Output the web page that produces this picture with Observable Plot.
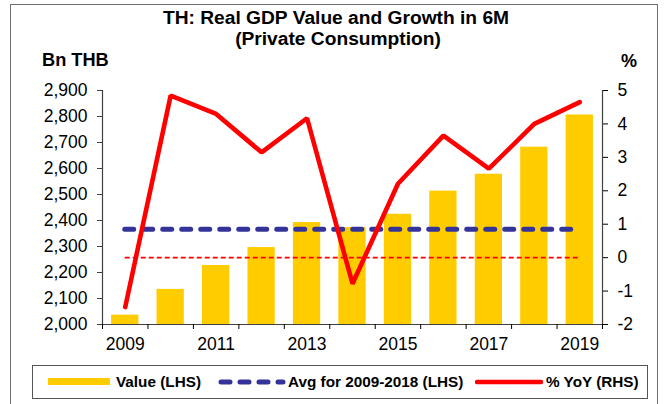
<!DOCTYPE html>
<html>
<head>
<meta charset="utf-8">
<script src="https://cdn.jsdelivr.net/npm/d3@7"></script>
<script src="https://cdn.jsdelivr.net/npm/@observablehq/plot@0.6"></script>
<style>
  html, body { margin: 0; padding: 0; background: #fff; }
  #wrap { position: relative; width: 664px; height: 404px; overflow: hidden; font-family: "Liberation Sans", Arial, sans-serif; color: #000; }
  #frame { position: absolute; left: 10px; top: 4px; width: 648px; height: 420px; border: 1.5px solid #707070; box-sizing: border-box; }
  .t { position: absolute; font-weight: bold; white-space: nowrap; }
  #chart { position: absolute; left: 0; top: 70px; }
  #legend { position: absolute; left: 32px; top: 365px; width: 616px; height: 34px; border: 1.5px solid #555; box-sizing: border-box; }
  .lg { position: absolute; font-weight: bold; font-size: 15.3px; top: 7px; white-space: nowrap; }
  .sw { position: absolute; }
</style>
</head>
<body>
<div id="wrap">
  <div id="frame"></div>
  <div class="t" style="left:0;width:672px;text-align:center;top:7px;font-size:19.2px;">TH: Real GDP Value and Growth in 6M</div>
  <div class="t" style="left:0;width:676px;text-align:center;top:28px;font-size:19.2px;">(Private Consumption)</div>
  <div class="t" style="left:42px;top:50px;font-size:18.2px;">Bn THB</div>
  <div class="t" style="left:621px;top:51px;font-size:18px;">%</div>
  <div id="chart"></div>
  <div id="legend">
    <svg class="sw" style="left:15px;top:12px" width="62" height="8"><rect x="0" y="0" width="62" height="7" fill="#ffcc00"></rect></svg>
    <div class="lg" style="left:83px">Value (LHS)</div>
    <svg class="sw" style="left:184px;top:10px" width="70" height="12"><line x1="4" y1="6" x2="66" y2="6" stroke="#333399" stroke-width="5" stroke-linecap="round" stroke-dasharray="9,10"></line></svg>
    <div class="lg" style="left:255px">Avg for 2009-2018 (LHS)</div>
    <svg class="sw" style="left:442px;top:12px" width="68" height="8"><line x1="2" y1="4" x2="66" y2="4" stroke="#ff0000" stroke-width="4.5" stroke-linecap="round"></line></svg>
    <div class="lg" style="left:513px">% YoY (RHS)</div>
  </div>
</div>
<script>
const years = [2009, 2010, 2011, 2012, 2013, 2014, 2015, 2016, 2017, 2018, 2019];
const values = [2036, 2135, 2227, 2296, 2392, 2373, 2424, 2513, 2578, 2682, 2806];
const yoy = [-1.48, 4.85, 4.30, 3.15, 4.17, -0.78, 2.21, 3.65, 2.66, 4.00, 4.65];
const avg0918 = 2366;
const leftTicks = [2000, 2100, 2200, 2300, 2400, 2500, 2600, 2700, 2800, 2900];
const rightTicks = [-2, -1, 0, 1, 2, 3, 4, 5];
const xLabelYears = [2009, 2011, 2013, 2015, 2017, 2019];

const L0 = 2000, L1 = 2900, R0 = -2, R1 = 5;
const toLeft = v => L0 + (v - R0) * (L1 - L0) / (R1 - R0);
const toRight = v => R0 + (v - L0) * (R1 - R0) / (L1 - L0);

const data = years.map((year, i) => ({year, value: values[i], yoy: yoy[i]}));
const first = years[0], last = years[years.length - 1];
const bounds = years.map(y => y - 0.5).concat([last + 0.5]);

const chart = Plot.plot({
  width: 664,
  height: 290,
  marginTop: 20,
  marginBottom: 36,
  marginLeft: 102,
  marginRight: 62,
  x: {domain: [first - 0.5, last + 0.5], axis: null},
  y: {domain: [L0, L1], axis: null},
  style: {fontFamily: '"Liberation Sans", Arial, sans-serif', fontSize: "17.5px", color: "#000", background: "transparent", overflow: "visible"},
  marks: [
    Plot.rectY(data, {x1: d => d.year - 0.3, x2: d => d.year + 0.3, y1: L0, y2: "value", fill: "#ffcc00"}),
    Plot.ruleY([avg0918], {x1: first, x2: last, stroke: "#333399", strokeWidth: 5, strokeDasharray: "9,10", strokeLinecap: "round"}),
    Plot.ruleY([toLeft(0)], {x1: first, x2: last, stroke: "#ff0000", strokeWidth: 1.6, strokeDasharray: "5,3"}),
    Plot.line(data, {x: "year", y: d => toLeft(d.yoy), stroke: "#ff0000", strokeWidth: 4.6, strokeLinejoin: "miter"}),
    Plot.ruleX([first - 0.5, last + 0.5], {stroke: "#404040", strokeWidth: 1.2}),
    Plot.ruleY([L0], {stroke: "#404040", strokeWidth: 1.2}),
    Plot.axisY({anchor: "left", ticks: leftTicks, tickFormat: d3.format(","), tickSize: 5, tickPadding: 10, label: null, stroke: "#404040"}),
    Plot.axisY({anchor: "right", ticks: rightTicks.map(toLeft), tickFormat: d => String(Math.round(toRight(d))), tickSize: 5, tickPadding: 10, label: null}),
    Plot.axisX({anchor: "bottom", ticks: bounds, tickFormat: () => "", tickSize: 5, label: null}),
    Plot.axisX({anchor: "bottom", ticks: xLabelYears, tickFormat: d => String(d), tickSize: 0, tickPadding: 13, label: null})
  ]
});
document.getElementById("chart").appendChild(chart);
</script>
</body>
</html>
